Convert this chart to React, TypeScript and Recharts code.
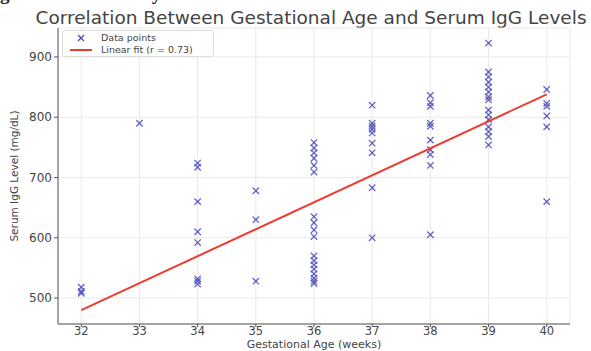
import { ScatterChart, Scatter, XAxis, YAxis, CartesianGrid, Label } from 'recharts';

// gestational week -> serum IgG readings (mg/dL)
const weeks = [32, 33, 34, 35, 36, 37, 38, 39, 40];
const igg32 = [518, 511, 508];
const igg33 = [790];
const igg34 = [724, 717, 660, 610, 592, 532, 528, 523];
const igg35 = [678, 630, 528];
const igg36 = [758, 749, 741, 732, 720, 709, 635, 625, 613, 602, 570, 562, 555, 548, 540, 533, 528, 524];
const igg37 = [820, 790, 785, 780, 774, 757, 741, 683, 600];
const igg38 = [836, 824, 818, 790, 785, 762, 746, 738, 720, 605];
const igg39 = [923, 875, 867, 858, 850, 842, 834, 829, 812, 804, 796, 784, 776, 768, 754];
const igg40 = [846, 823, 818, 802, 784, 660];

const fitX = [32, 40];
const fitY = [480, 838];

const xTicks = [32, 33, 34, 35, 36, 37, 38, 39, 40];
const yTicks = [500, 600, 700, 800, 900];

const groups = [igg32, igg33, igg34, igg35, igg36, igg37, igg38, igg39, igg40];
const points = groups.flatMap((vals, i) => vals.map(v => ({ x: weeks[i], y: v })));
const fitLine = fitX.map((x, i) => ({ x, y: fitY[i] }));

const BLUE = '#4b4bbf';
const RED = '#ee3b30';

const Cross = (props: any) => {
  const { cx, cy } = props;
  if (cx == null || cy == null) return <g />;
  const r = 3.2;
  return (
    <g stroke={BLUE} strokeWidth={1.3} strokeOpacity={0.85}>
      <line x1={cx - r} y1={cy - r} x2={cx + r} y2={cy + r} />
      <line x1={cx - r} y1={cy + r} x2={cx + r} y2={cy - r} />
    </g>
  );
};

const LegendBox = () => (
  <div
    style={{
      position: 'absolute',
      left: 62,
      top: 30,
      width: 152,
      height: 27,
      background: '#fff',
      border: '1px solid #dcdcdc',
      borderRadius: 3,
      fontFamily: 'DejaVu Sans',
      fontSize: 9.5,
      color: '#444',
      boxSizing: 'border-box',
      padding: '1px 0 0 6px',
      lineHeight: '12px',
    }}
  >
    <div style={{ display: 'flex', alignItems: 'center' }}>
      <svg width={24} height={12}>
        <g stroke={BLUE} strokeWidth={1.3}>
          <line x1={9} y1={3} x2={15} y2={9} />
          <line x1={9} y1={9} x2={15} y2={3} />
        </g>
      </svg>
      <span style={{ marginLeft: 8 }}>Data points</span>
    </div>
    <div style={{ display: 'flex', alignItems: 'center' }}>
      <svg width={24} height={12}>
        <line x1={1} y1={6} x2={23} y2={6} stroke={RED} strokeWidth={2} />
      </svg>
      <span style={{ marginLeft: 8 }}>Linear fit (r = 0.73)</span>
    </div>
  </div>
);

export default function App() {
  return (
    <div style={{ position: 'absolute', left: 0, top: 0, width: 591, height: 351, overflow: 'hidden', background: '#fff' }}>
      <div
        style={{
          position: 'absolute',
          left: 0,
          top: -16,
          fontFamily: 'Liberation Serif',
          fontWeight: 'bold',
          fontSize: 19,
          lineHeight: '19px',
          color: '#222',
          whiteSpace: 'nowrap',
        }}
      >
        greater risk of early-life infections.
      </div>
      <div
        style={{
          position: 'absolute',
          left: 0,
          width: 622,
          top: 7,
          textAlign: 'center',
          fontFamily: 'DejaVu Sans',
          fontSize: 18.5,
          color: '#444',
          whiteSpace: 'nowrap',
        }}
      >
        Correlation Between Gestational Age and Serum IgG Levels
      </div>
      <div style={{ position: 'absolute', left: 0, top: 0 }}>
        <ScatterChart width={591} height={351} margin={{ top: 28, right: 21, bottom: 0, left: 0 }}>
          <CartesianGrid stroke="#e9e9e9" strokeWidth={1} />
          <XAxis
            type="number"
            dataKey="x"
            domain={[31.6, 40.4]}
            ticks={xTicks}
            height={27}
            tickSize={3}
            tickMargin={0}
            stroke="#555"
            tick={{ fill: '#444', fontSize: 11.5, fontFamily: 'DejaVu Sans' }}
            allowDataOverflow
          >
            <Label
              value="Gestational Age (weeks)"
              content={({ viewBox }: any) => (
                <text
                  x={viewBox.x + viewBox.width / 2}
                  y={348}
                  textAnchor="middle"
                  fontFamily="DejaVu Sans"
                  fontSize={11}
                  fill="#444"
                >
                  Gestational Age (weeks)
                </text>
              )}
            />
          </XAxis>
          <YAxis
            type="number"
            dataKey="y"
            domain={[457, 948]}
            ticks={yTicks}
            width={58}
            tickSize={4}
            tickMargin={2}
            stroke="#555"
            tick={{ fill: '#444', fontSize: 12, fontFamily: 'DejaVu Sans' }}
            allowDataOverflow
          >
            <Label
              value="Serum IgG Level (mg/dL)"
              content={({ viewBox }: any) => {
                const cy = viewBox.y + viewBox.height / 2;
                return (
                  <text
                    x={18}
                    y={cy}
                    transform={`rotate(-90 18 ${cy})`}
                    textAnchor="middle"
                    fontFamily="DejaVu Sans"
                    fontSize={10.5}
                    fill="#444"
                  >
                    Serum IgG Level (mg/dL)
                  </text>
                );
              }}
            />
          </YAxis>
          <Scatter data={points} shape={Cross} isAnimationActive={false} />
          <Scatter
            data={fitLine}
            line={{ stroke: RED, strokeWidth: 2 }}
            shape={() => <g />}
            isAnimationActive={false}
          />
        </ScatterChart>
      </div>
      <LegendBox />
    </div>
  );
}
